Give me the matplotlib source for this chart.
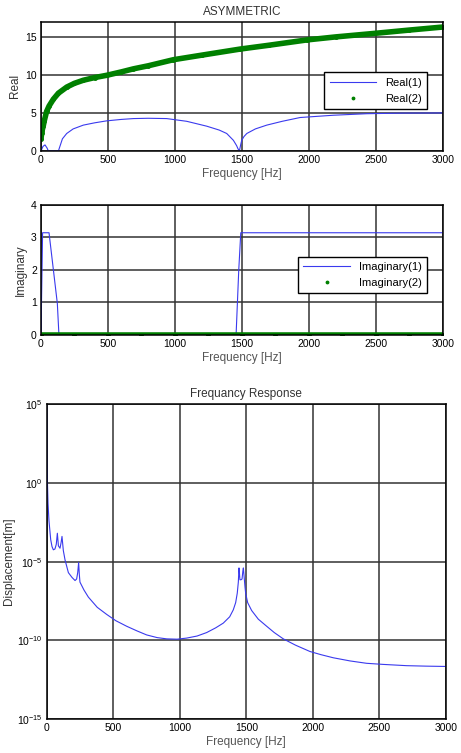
import numpy as np
import matplotlib
matplotlib.use('Agg')
import matplotlib.pyplot as plt
from matplotlib import font_manager

# pick the regular (not narrow) Liberation Sans file
reg = [p for p in font_manager.findSystemFonts() if p.endswith('LiberationSans-Regular.ttf')]
fam = 'Liberation Sans'
if reg:
    font_manager.fontManager.addfont(reg[0])
    fam = font_manager.FontProperties(fname=reg[0]).get_name()
plt.rcParams['font.family'] = [fam, 'DejaVu Sans']
plt.rcParams['mathtext.fontset'] = 'custom'
plt.rcParams['mathtext.rm'] = fam
plt.rcParams['font.size'] = 7

# Real part
f_re1 = [0, 15, 30, 45, 55, 130, 160, 192, 240, 316, 400, 490, 600, 690, 800, 938,
         1088, 1237, 1330, 1386, 1436, 1460, 1470, 1481, 1490, 1498, 1515, 1536, 1600,
         1685, 1800, 1934, 2183, 2432, 2700, 3000]
re1 = [0, 0.6, 0.8, 0.4, 0, 0, 1.6, 2.3, 2.9, 3.4, 3.7, 3.96, 4.15, 4.26, 4.3, 4.26,
       3.9, 3.26, 2.75, 2.3, 1.4, 0.7, 0.3, 0, 0.8, 1.4, 1.9, 2.3, 2.9,
       3.4, 3.9, 4.4, 4.7, 4.9, 4.98, 5.0]

f_re2 = [0, 5, 10, 17, 25, 42, 60, 92, 130, 192, 250, 316, 400, 490, 600, 690, 800,
         988, 1200, 1486, 1700, 1984, 2200, 2482, 2750, 3000]
re2 = [1.6, 2.3, 2.8, 3.3, 4.0, 5.2, 5.9, 6.8, 7.6, 8.4, 8.9, 9.3, 9.65, 9.95, 10.4,
       10.8, 11.2, 12.0, 12.6, 13.4, 13.9, 14.6, 15.0, 15.45, 15.9, 16.3]

# Imaginary part
f_im1 = [0, 12, 60, 122, 134, 1456, 1476, 1491, 3000]
im1 = [0, 3.14, 3.14, 0.97, 0, 0, 2.0, 3.14, 3.14]

f_im2 = [0, 250, 500, 750, 1000, 1250, 1500, 1750, 2000, 2250, 2500, 2750, 3000]
im2 = [0, 0, 0, 0, 0, 0, 0, 0, 0, 0, 0, 0, 0]

# Frequency response (log10 of displacement)
f_fr = [0, 2, 5, 10, 17, 30, 40, 50, 62, 72, 80, 88, 100, 108, 115, 125, 138, 163,
        190, 213, 225, 233, 240, 245, 250, 280, 313, 380, 451, 520, 601, 680, 751,
        830, 902, 980, 1052, 1130, 1202, 1270, 1327, 1375, 1402, 1420, 1432, 1440,
        1445, 1449, 1452, 1460, 1468, 1474, 1478, 1483, 1490, 1495, 1510, 1540, 1590,
        1653, 1710, 1778, 1870, 1978, 2060, 2154, 2280, 2404, 2529, 2704, 2850, 3000]
logd = [5.0, 1.5, 0.2, -1.3, -2.4, -3.6, -4.05, -4.25, -4.2, -3.9, -3.2, -4.0, -4.15,
        -3.8, -3.4, -4.3, -4.9, -5.7, -6.0, -6.2, -6.1, -5.7, -5.06, -5.8, -6.3, -6.8,
        -7.25, -7.9, -8.35, -8.75, -9.1, -9.4, -9.65, -9.82, -9.9, -9.92, -9.85, -9.72,
        -9.5, -9.2, -8.9, -8.5, -8.06, -7.6, -7.0, -6.3, -5.4, -5.8, -6.15, -6.15, -6.1,
        -5.6, -5.4, -5.9, -6.6, -7.0, -7.6, -8.1, -8.65, -9.1, -9.5, -9.9, -10.3, -10.7,
        -10.9, -11.1, -11.3, -11.45, -11.52, -11.6, -11.63, -11.65]

blue = '#3a3aee'
green = '#008000'

fig = plt.figure(figsize=(4.61, 7.53), dpi=100)

def style(ax):
    ax.grid(True, color='#333333', linewidth=1.1)
    for s in ax.spines.values():
        s.set_linewidth(1.1)
    ax.tick_params(direction='in', length=0, labelsize=7.5, pad=3)
    ax.set_xlim(0, 3000)
    ax.set_xticks([0, 500, 1000, 1500, 2000, 2500, 3000])
    ax.set_xlabel('Frequency [Hz]', color='#555555', fontsize=8.5, labelpad=2)

def legend(ax, y):
    leg = ax.legend(loc='upper right', bbox_to_anchor=(0.975, y), fancybox=False,
                    edgecolor='black', fontsize=8, handlelength=4.2, borderpad=0.5,
                    labelspacing=0.5, markerscale=0.7, framealpha=1)
    leg.get_frame().set_linewidth(1.0)

ax1 = fig.add_axes([0.0889, 0.7995, 0.872, 0.1717])
ax1.plot(f_re1, re1, color=blue, lw=0.8, label='Real(1)')
ax1.plot(f_re2, re2, color=green, lw=4, solid_capstyle='round')
ax1.plot(f_re2, re2, 'o', color=green, ms=2.5, label='Real(2)')
ax1.set_ylim(0, 17)
ax1.set_yticks([0, 5, 10, 15])
ax1.set_ylabel('Real', fontsize=8.5, color='#333333', labelpad=3)
ax1.set_title('ASYMMETRIC', fontsize=8.5, color='#333333', pad=5)
style(ax1)
legend(ax1, 0.65)

ax2 = fig.add_axes([0.0889, 0.5551, 0.872, 0.173])
ax2.plot(f_im1, im1, color=blue, lw=0.8, label='Imaginary(1)')
ax2.plot(f_im2, im2, color=green, lw=4)
ax2.plot(f_im2, im2, 'o', color=green, ms=2.5, label='Imaginary(2)')
ax2.set_ylim(0, 4)
ax2.set_yticks([0, 1, 2, 3, 4])
ax2.set_ylabel('Imaginary', fontsize=8.5, color='#333333', labelpad=3)
style(ax2)
legend(ax2, 0.645)

ax3 = fig.add_axes([0.1013, 0.0448, 0.866, 0.4187])
ax3.semilogy(f_fr, 10.0 ** np.array(logd), color=blue, lw=0.8)
ax3.set_ylim(1e-15, 1e5)
ax3.set_yticks([1e-15, 1e-10, 1e-5, 1e0, 1e5])
ax3.set_yticklabels([r'$10^{-15}$', r'$10^{-10}$', r'$10^{-5}$', r'$10^{0}$', r'$10^{5}$'])
ax3.minorticks_off()
ax3.set_ylabel('Displacement[m]', fontsize=8.5, color='#333333', labelpad=1)
ax3.set_title('Frequancy Response', fontsize=8.5, color='#333333', pad=5)
style(ax3)

fig.savefig('out.png', dpi=100)
